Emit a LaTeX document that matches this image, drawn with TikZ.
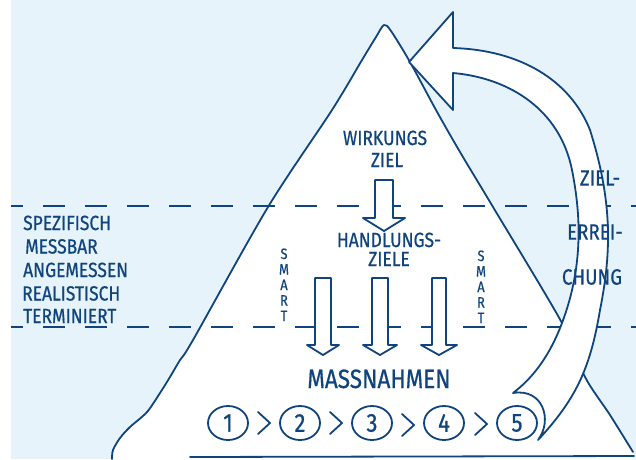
\documentclass[tikz,border=0pt]{standalone}
\usepackage{fontspec}
\newfontfamily\hand[FakeStretch=0.85,FakeBold=0.6]{Fira Sans}
\usetikzlibrary{shapes.geometric}
\definecolor{ink}{RGB}{16,68,126}
\definecolor{sky}{RGB}{230,243,250}
\begin{document}
\begin{tikzpicture}[x=1pt,y=-1pt,
  inkline/.style={draw=ink, line width=1.8pt, line join=round, line cap=round},
  hollow/.style={inkline, fill=white},
  dashline/.style={draw=ink, line width=1.8pt, dash pattern=on 22pt off 20pt, dash phase=10pt},
  lbl/.style={text=ink, inner sep=0pt, font=\hand\fontsize{20.5}{20}\selectfont},
  biglbl/.style={text=ink, inner sep=0pt, font=\hand\fontsize{26.5}{26}\selectfont},
  bandlbl/.style={text=ink, inner sep=0pt, font=\hand\fontsize{22}{22}\selectfont},
  smart/.style={text=ink, inner sep=0pt, anchor=base, font=\hand\fontsize{15}{15}\selectfont},
  num/.style={inkline, ellipse, minimum width=40pt, minimum height=34pt, inner sep=0pt,
    text=ink, font=\hand\fontsize{26}{26}\selectfont}
]
\useasboundingbox (0,0) rectangle (636,459);
% background
\fill[sky] (11,0) rectangle (636,459);

% mountain
\fill[white] plot[smooth] coordinates {(112,459) (113,450) (120,438) (130,427) (147,412) (160,393) (170,377) (180,360) (193,340) (268,207) (332,110) (362,60) (376,37) (384,25) (391,31) (410,62) (436,110) (460,152) (493,207) (562,323) (585,377) (610,415) (633,452)} -- (634,459) -- cycle;
\draw[inkline] plot[smooth] coordinates {(112,459) (113,450) (120,438) (130,427) (147,412) (160,393) (170,377) (180,360) (193,340) (268,207) (332,110) (362,60) (376,37) (384,25) (391,31) (410,62) (436,110) (460,152) (493,207) (562,323) (585,377) (610,415) (633,452)};
\draw[inkline] (190,457) -- (634,456);

% dashed lines
\draw[dashline] (11,206) -- (636,206);
\draw[dashline] (11,327) -- (636,327);

% text nodes
\node[lbl, anchor=base west] (spez) at (23,230) {SPEZIFISCH};
\node[lbl, anchor=base west] (mess) at (25,253.5) {MESSBAR};
\node[lbl, anchor=base west] (ange) at (23,277) {ANGEMESSEN};
\node[lbl, anchor=base west] (real) at (22,300.5) {REALISTISCH};
\node[lbl, anchor=base west] (term) at (23,323) {TERMINIERT};

\node[lbl, anchor=base] (wirk) at (385,145) {WIRKUNGS};
\node[lbl, anchor=base] (ziel) at (387,167) {ZIEL};
\node[lbl, anchor=base] (hand) at (389,247) {HANDLUNGS-};
\node[lbl, anchor=base] (ziele) at (389,266) {ZIELE};
\node[biglbl, anchor=base] (mass) at (379,388) {MASSNAHMEN};

% SMART columns
\node[smart] (sL1) at (284,259) {S};
\node[smart] (sL2) at (284,274.5) {M};
\node[smart] (sL3) at (284,290) {A};
\node[smart] (sL4) at (284,305.5) {R};
\node[smart] (sL5) at (284,321) {T};
\node[smart] (sR1) at (481,261) {S};
\node[smart] (sR2) at (481,276.5) {M};
\node[smart] (sR3) at (481,292) {A};
\node[smart] (sR4) at (481,307.5) {R};
\node[smart] (sR5) at (481,323) {T};

% hollow arrows
\coordinate (a0) at (384,180);
\coordinate (a1) at (323,278);
\coordinate (a2) at (380,278);
\coordinate (a3) at (439,278);
\draw[hollow] (a0) ++(-9,0) -- ++(0,38) -- ++(-12,0) -- ++(21,13) -- ++(21,-13) -- ++(-12,0) -- ++(0,-38) -- cycle;
\draw[hollow] (a1) ++(-8,0) -- ++(0,67) -- ++(-8,0) -- ++(16,10) -- ++(16,-10) -- ++(-8,0) -- ++(0,-67) -- cycle;
\draw[hollow] (a2) ++(-8,0) -- ++(0,67) -- ++(-9,0) -- ++(17,10) -- ++(17,-10) -- ++(-9,0) -- ++(0,-67) -- cycle;
\draw[hollow] (a3) ++(-7,0) -- ++(0,67) -- ++(-11,0) -- ++(18,10) -- ++(18,-10) -- ++(-11,0) -- ++(0,-67) -- cycle;

% curved arrow band
\draw[hollow] (409,62) -- (453,110) -- (453,73)
  .. controls (510,78) and (560,110) .. (572,170)
  .. controls (582,220) and (582,270) .. (562,323)
  .. controls (548,360) and (530,380) .. (513,393)
  .. controls (543,388) and (553,420) .. (538,440)
  .. controls (575,400) and (590,370) .. (600,310)
  .. controls (612,250) and (612,200) .. (590,130)
  .. controls (570,80) and (520,50) .. (453,48)
  -- (453,12) -- cycle;

\node[bandlbl] (zielb) at (600,178) {ZIEL-};
\node[bandlbl] (errei) at (595,232) {ERREI-};
\node[bandlbl] (chung) at (592,277) {CHUNG};

% numbered steps
\node[num] (c1) at (228,423) {1};
\node[num] (c2) at (300,423) {2};
\node[num] (c3) at (372,423) {3};
\node[num] (c4) at (444,423) {4};
\node[num] (c5) at (517,423) {5};
\coordinate (g1) at (264,423);
\coordinate (g2) at (336,423);
\coordinate (g3) at (408,425);
\coordinate (g4) at (481,424);
\foreach \g in {g1,g2,g3,g4}
  \draw[inkline] (\g) ++(-6,-11) -- ++(12,11) -- ++(-12,11);
\end{tikzpicture}
\end{document}
